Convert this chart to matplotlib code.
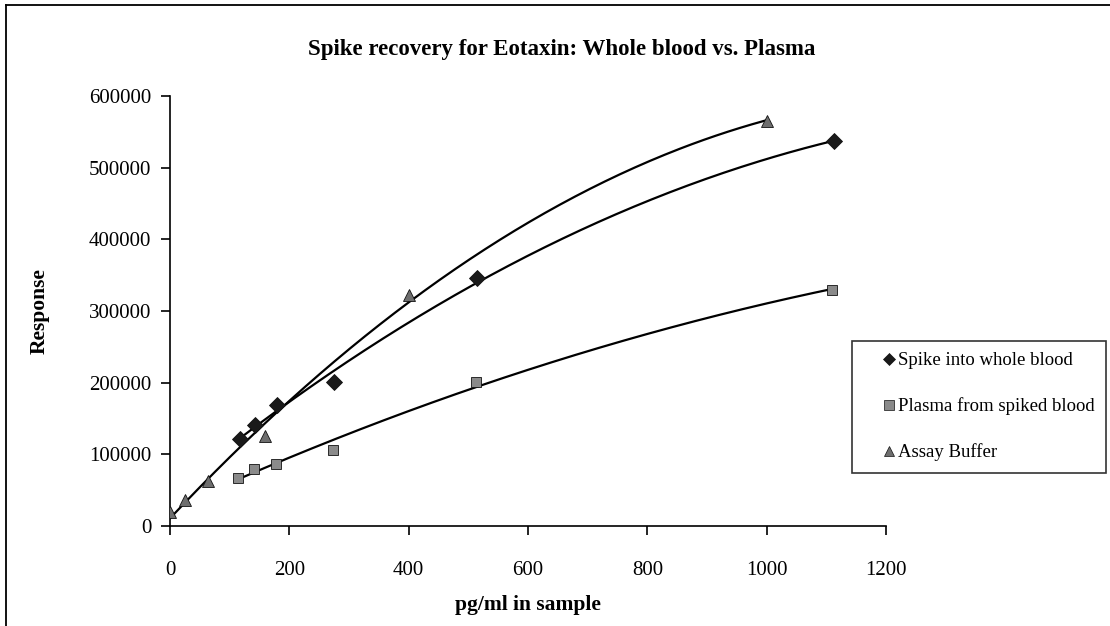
import numpy as np
import matplotlib.pyplot as plt
from matplotlib.lines import Line2D

plt.rcParams['font.family'] = 'Liberation Serif'

# data
x_blood = [117, 142, 179, 275, 515, 1113]
y_blood = [121000, 140500, 169500, 201000, 346000, 537000]

x_plasma = [114, 140, 177, 274, 513, 1110]
y_plasma = [67600, 79600, 87100, 106700, 201000, 330000]

x_buffer = [0, 25.6, 64, 160, 400, 1000]
y_buffer = [19500, 36500, 63000, 125000, 323000, 565000]

x_ticks = [0, 200, 400, 600, 800, 1000, 1200]
y_ticks = [0, 100000, 200000, 300000, 400000, 500000, 600000]

W, H = 1110, 626
fig = plt.figure(figsize=(W / 100, H / 100), dpi=100)

# outer frame (only left and top edges fall inside the picture)
fig.add_artist(Line2D([6 / W, 6 / W], [0, 1 - 5 / H], color='black', lw=1.3,
                      transform=fig.transFigure))
fig.add_artist(Line2D([6 / W, 1], [1 - 5 / H, 1 - 5 / H], color='black', lw=1.3,
                      transform=fig.transFigure))

ax = fig.add_axes([170 / W, 1 - 526 / H, 716 / W, 430 / H])

series = [
    (x_blood, y_blood, 'D', '#1a1a1a', 8, 'Spike into whole blood'),
    (x_plasma, y_plasma, 's', '#8a8a8a', 7, 'Plasma from spiked blood'),
    (x_buffer, y_buffer, '^', '#6e6e6e', 8.5, 'Assay Buffer'),
]

handles = []
for xs, ys, m, c, ms, lab in series:
    # 2nd order polynomial trendline over the data range
    coef = np.polyfit(xs, ys, 2)
    xx = np.linspace(min(xs), max(xs), 200)
    ax.plot(xx, np.polyval(coef, xx), color='black', lw=1.6, zorder=2)
    ax.plot(xs, ys, ls='none', marker=m, ms=ms, mfc=c, mec='#111111', mew=0.6,
            zorder=3)
    handles.append(Line2D([], [], ls='none', marker=m, ms=6.5, mfc=c,
                          mec='#111111', mew=0.5, label=lab))

ax.set_xlim(0, 1200)
ax.set_ylim(0, 600000)
ax.set_xticks(x_ticks)
ax.set_yticks(y_ticks)
ax.set_xticklabels([str(t) for t in x_ticks])
ax.set_yticklabels([str(t) for t in y_ticks])
ax.tick_params(direction='out', length=6.5, width=1.2, labelsize=15)
ax.tick_params(axis='y', pad=7)
ax.tick_params(axis='x', pad=19)
ax.spines['top'].set_visible(False)
ax.spines['right'].set_visible(False)
ax.spines['left'].set_linewidth(1.2)
ax.spines['bottom'].set_linewidth(1.2)

fig.text(562 / W, 1 - 49 / H, 'Spike recovery for Eotaxin: Whole blood vs. Plasma',
         fontsize=16.5, fontweight='bold', ha='center', va='center')
ax.set_xlabel('pg/ml in sample', fontsize=15.5, fontweight='bold')
ax.set_ylabel('Response', fontsize=15.5, fontweight='bold')
ax.xaxis.set_label_coords(0.5, -0.16)
ax.yaxis.set_label_coords(-0.168, 0.5)

leg = fig.legend(handles=handles, loc='upper left',
                 bbox_to_anchor=(852 / W, 1 - 341 / H),
                 bbox_transform=fig.transFigure, fontsize=13.5,
                 frameon=True, fancybox=False, edgecolor='black',
                 handletextpad=-0.85, handlelength=2.7, labelspacing=1.5,
                 borderpad=0.6, borderaxespad=0)
leg.get_frame().set_linewidth(1.2)

fig.savefig('out.png', dpi=100)
